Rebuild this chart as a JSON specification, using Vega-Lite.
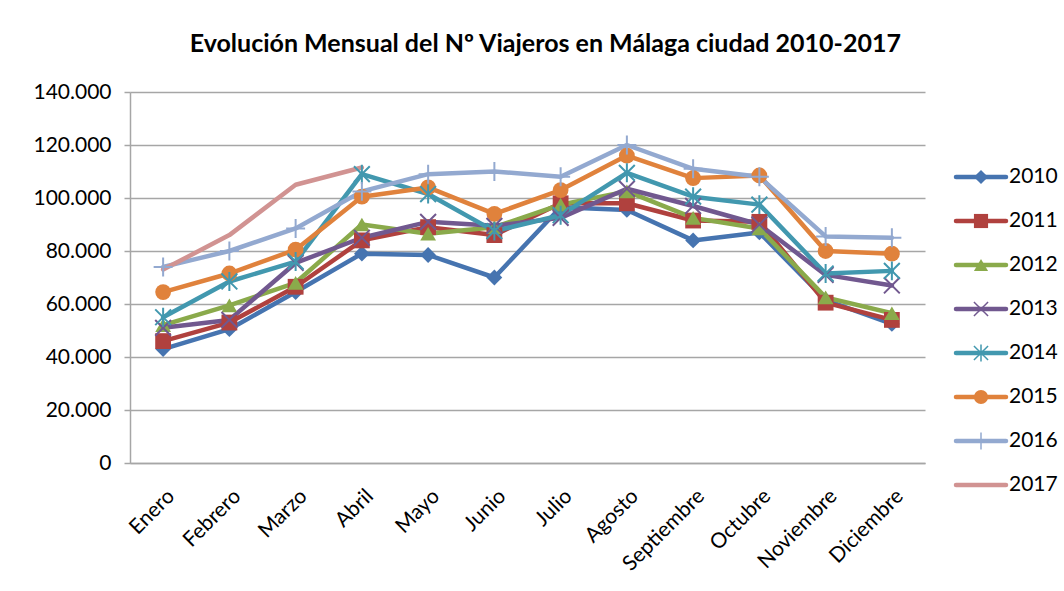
{
  "$schema": "https://vega.github.io/schema/vega-lite/v6.json",
  "padding": {"left": 32, "top": 32, "right": 5, "bottom": 5},
  "background": "white",
  "title": {"text": "Evolución Mensual del Nº Viajeros en Málaga ciudad 2010-2017", "font": "Lato", "fontSize": 25, "fontWeight": "bold", "color": "#000000", "anchor": "middle", "offset": 24},
  "config": {
    "locale": {"number": {"decimal": ",", "thousands": ".", "grouping": [3], "currency": ["", " €"]}},
    "view": {"stroke": null},
    "font": "Lato"
  },
  "datasets": {
    "viajeros": [
      {"m":"Enero","y":"2010","v":43000},{"m":"Febrero","y":"2010","v":50500},{"m":"Marzo","y":"2010","v":64500},{"m":"Abril","y":"2010","v":79000},{"m":"Mayo","y":"2010","v":78500},{"m":"Junio","y":"2010","v":70000},{"m":"Julio","y":"2010","v":96500},{"m":"Agosto","y":"2010","v":95500},{"m":"Septiembre","y":"2010","v":84000},{"m":"Octubre","y":"2010","v":87000},{"m":"Noviembre","y":"2010","v":61500},{"m":"Diciembre","y":"2010","v":52500},
      {"m":"Enero","y":"2011","v":46000},{"m":"Febrero","y":"2011","v":53000},{"m":"Marzo","y":"2011","v":66500},{"m":"Abril","y":"2011","v":84000},{"m":"Mayo","y":"2011","v":89000},{"m":"Junio","y":"2011","v":86000},{"m":"Julio","y":"2011","v":98000},{"m":"Agosto","y":"2011","v":98000},{"m":"Septiembre","y":"2011","v":91500},{"m":"Octubre","y":"2011","v":91000},{"m":"Noviembre","y":"2011","v":60500},{"m":"Diciembre","y":"2011","v":54000},
      {"m":"Enero","y":"2012","v":52000},{"m":"Febrero","y":"2012","v":59500},{"m":"Marzo","y":"2012","v":68000},{"m":"Abril","y":"2012","v":90000},{"m":"Mayo","y":"2012","v":86500},{"m":"Junio","y":"2012","v":89000},{"m":"Julio","y":"2012","v":97500},{"m":"Agosto","y":"2012","v":102500},{"m":"Septiembre","y":"2012","v":92500},{"m":"Octubre","y":"2012","v":88500},{"m":"Noviembre","y":"2012","v":62500},{"m":"Diciembre","y":"2012","v":56500},
      {"m":"Enero","y":"2013","v":51000},{"m":"Febrero","y":"2013","v":54000},{"m":"Marzo","y":"2013","v":75500},{"m":"Abril","y":"2013","v":85000},{"m":"Mayo","y":"2013","v":91000},{"m":"Junio","y":"2013","v":89500},{"m":"Julio","y":"2013","v":92500},{"m":"Agosto","y":"2013","v":103500},{"m":"Septiembre","y":"2013","v":97000},{"m":"Octubre","y":"2013","v":90000},{"m":"Noviembre","y":"2013","v":71000},{"m":"Diciembre","y":"2013","v":67000},
      {"m":"Enero","y":"2014","v":55000},{"m":"Febrero","y":"2014","v":68500},{"m":"Marzo","y":"2014","v":76000},{"m":"Abril","y":"2014","v":109000},{"m":"Mayo","y":"2014","v":101500},{"m":"Junio","y":"2014","v":87500},{"m":"Julio","y":"2014","v":93500},{"m":"Agosto","y":"2014","v":109500},{"m":"Septiembre","y":"2014","v":100500},{"m":"Octubre","y":"2014","v":97500},{"m":"Noviembre","y":"2014","v":71500},{"m":"Diciembre","y":"2014","v":72500},
      {"m":"Enero","y":"2015","v":64500},{"m":"Febrero","y":"2015","v":71500},{"m":"Marzo","y":"2015","v":80500},{"m":"Abril","y":"2015","v":100500},{"m":"Mayo","y":"2015","v":104000},{"m":"Junio","y":"2015","v":94000},{"m":"Julio","y":"2015","v":103000},{"m":"Agosto","y":"2015","v":116000},{"m":"Septiembre","y":"2015","v":107500},{"m":"Octubre","y":"2015","v":108500},{"m":"Noviembre","y":"2015","v":80000},{"m":"Diciembre","y":"2015","v":79000},
      {"m":"Enero","y":"2016","v":74000},{"m":"Febrero","y":"2016","v":80000},{"m":"Marzo","y":"2016","v":88500},{"m":"Abril","y":"2016","v":102500},{"m":"Mayo","y":"2016","v":109000},{"m":"Junio","y":"2016","v":110000},{"m":"Julio","y":"2016","v":108000},{"m":"Agosto","y":"2016","v":120000},{"m":"Septiembre","y":"2016","v":111000},{"m":"Octubre","y":"2016","v":108000},{"m":"Noviembre","y":"2016","v":85500},{"m":"Diciembre","y":"2016","v":85000},
      {"m":"Enero","y":"2017","v":73000},{"m":"Febrero","y":"2017","v":86000},{"m":"Marzo","y":"2017","v":105000},{"m":"Abril","y":"2017","v":111500}
    ],
    "years": [
      {"y":"2010"},{"y":"2011"},{"y":"2012"},{"y":"2013"},{"y":"2014"},{"y":"2015"},{"y":"2016"},{"y":"2017"}
    ]
  },
  "hconcat": [
    {
      "width": 795,
      "height": 371,
      "data": {"name": "viajeros"},
      "encoding": {
        "x": {"field": "m", "type": "ordinal", "sort": ["Enero","Febrero","Marzo","Abril","Mayo","Junio","Julio","Agosto","Septiembre","Octubre","Noviembre","Diciembre"], "title": null,
          "axis": {"labelAngle": -45, "labelFont": "Lato", "labelFontSize": 21, "labelColor": "#000000", "labelPadding": 22, "ticks": false, "domainColor": "#A6A6A6", "domainWidth": 1.5, "grid": false}},
        "y": {"field": "v", "type": "quantitative", "title": null, "scale": {"domain": [0, 140000], "nice": false},
          "axis": {"values": [0,20000,40000,60000,80000,100000,120000,140000], "format": ",.0f", "labelFont": "Lato", "labelFontSize": 21, "labelColor": "#000000", "labelPadding": 13, "tickSize": 6, "tickColor": "#A6A6A6", "tickWidth": 1.5, "domainColor": "#A6A6A6", "domainWidth": 1.5, "gridColor": "#A6A6A6", "gridWidth": 1.5}},
        "color": {"field": "y", "type": "nominal", "legend": null,
          "scale": {"domain": ["2010","2011","2012","2013","2014","2015","2016","2017"], "range": ["#4674B0","#B0413E","#8AAA4B","#71588F","#4298AF","#E0823C","#93A9D0","#D19392"]}}
      },
      "layer": [
        {"mark": {"type": "line", "strokeWidth": 4.5, "strokeCap": "round", "strokeJoin": "round"}},
        {
          "transform": [{"filter": {"field": "y", "oneOf": ["2010","2011","2012","2015"]}}],
          "mark": {"type": "point", "filled": true, "opacity": 1, "size": 250},
          "encoding": {"shape": {"field": "y", "type": "nominal", "legend": null,
            "scale": {"domain": ["2010","2011","2012","2013","2014","2015","2016","2017"], "range": ["diamond","square","triangle-up","M-1,-1L1,1M-1,1L1,-1","M-1,-1L1,1M-1,1L1,-1M0,-1.2L0,1.2","circle","M0,-1.2L0,1.2M-1.2,0L1.2,0","circle"]}}}
        },
        {
          "transform": [{"filter": {"field": "y", "oneOf": ["2013","2014","2016"]}}],
          "mark": {"type": "point", "filled": false, "opacity": 1, "size": 250, "strokeWidth": 2},
          "encoding": {"shape": {"field": "y", "type": "nominal", "legend": null,
            "scale": {"domain": ["2010","2011","2012","2013","2014","2015","2016","2017"], "range": ["diamond","square","triangle-up","M-1,-1L1,1M-1,1L1,-1","M-1,-1L1,1M-1,1L1,-1M0,-1.2L0,1.2","circle","M0,-1.2L0,1.2M-1.2,0L1.2,0","circle"]}}}
        }
      ]
    },
    {
      "width": 50,
      "height": 420,
      "data": {"name": "years"},
      "encoding": {
        "y": {"field": "y", "type": "ordinal", "axis": null, "scale": {"type": "point", "padding": 0, "range": [85, 393], "domain": ["2010","2011","2012","2013","2014","2015","2016","2017"]}},
        "color": {"field": "y", "type": "nominal", "legend": null,
          "scale": {"domain": ["2010","2011","2012","2013","2014","2015","2016","2017"], "range": ["#4674B0","#B0413E","#8AAA4B","#71588F","#4298AF","#E0823C","#93A9D0","#D19392"]}}
      },
      "layer": [
        {"mark": {"type": "rule", "strokeWidth": 4.5, "strokeCap": "round"},
         "encoding": {"x": {"datum": 0, "type": "quantitative", "axis": null, "scale": {"domain": [0, 1]}}, "x2": {"datum": 1}}},
        {
          "transform": [{"filter": {"field": "y", "oneOf": ["2010","2011","2012","2015"]}}],
          "mark": {"type": "point", "filled": true, "opacity": 1, "size": 200},
          "encoding": {"x": {"datum": 0.5, "type": "quantitative", "axis": null, "scale": {"domain": [0, 1]}},
            "shape": {"field": "y", "type": "nominal", "legend": null,
            "scale": {"domain": ["2010","2011","2012","2013","2014","2015","2016","2017"], "range": ["diamond","square","triangle-up","M-1,-1L1,1M-1,1L1,-1","M-1,-1L1,1M-1,1L1,-1M0,-1.2L0,1.2","circle","M0,-1.2L0,1.2M-1.2,0L1.2,0","circle"]}}}
        },
        {
          "transform": [{"filter": {"field": "y", "oneOf": ["2013","2014","2016"]}}],
          "mark": {"type": "point", "filled": false, "opacity": 1, "size": 200, "strokeWidth": 1.5},
          "encoding": {"x": {"datum": 0.5, "type": "quantitative", "axis": null, "scale": {"domain": [0, 1]}},
            "shape": {"field": "y", "type": "nominal", "legend": null,
            "scale": {"domain": ["2010","2011","2012","2013","2014","2015","2016","2017"], "range": ["diamond","square","triangle-up","M-1,-1L1,1M-1,1L1,-1","M-1,-1L1,1M-1,1L1,-1M0,-1.2L0,1.2","circle","M0,-1.2L0,1.2M-1.2,0L1.2,0","circle"]}}}
        },
        {
          "mark": {"type": "text", "align": "left", "baseline": "middle", "dx": 3, "font": "Lato", "fontSize": 21, "color": "#000000"},
          "encoding": {"x": {"datum": 1, "type": "quantitative", "axis": null, "scale": {"domain": [0, 1]}}, "text": {"field": "y"}, "color": {"value": "#000000"}}
        }
      ]
    }
  ],
  "spacing": 28
}
